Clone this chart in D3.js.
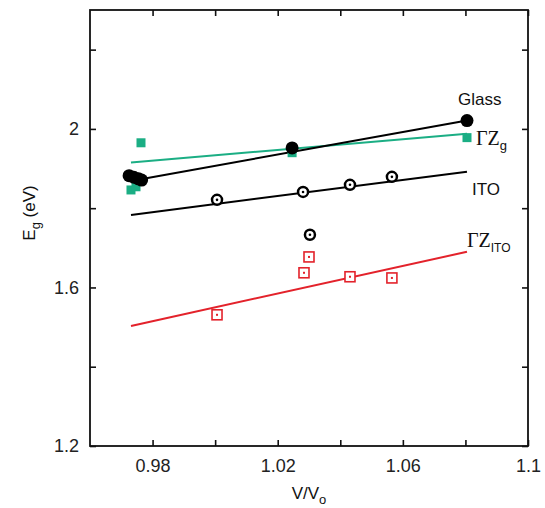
<!DOCTYPE html>
<head>
	<meta charset="utf-8">
	<title>Eg vs V/Vo</title>
	<script src="https://d3js.org/d3.v7.min.js"></script>
	<style>
		body{ margin:0; background:#fff; }
		.tick text{ font-family:"Liberation Sans", Arial, sans-serif; font-size:18px; fill:#222; }
		.axis path{ display:none; }
		.axis line{ stroke:#111; stroke-width:1.6; }
		.lbl{ font-family:"Liberation Sans", Arial, sans-serif; fill:#111; }
		.serif{ font-family:"Liberation Serif", "Times New Roman", serif; fill:#111; }
		.sub{ font-family:"Liberation Sans", Arial, sans-serif; }
	</style>
</head>
<body>
<div id="chart"></div>
<script>
// data
var glassV = [0.9725, 0.974, 0.9755, 0.9765, 1.0246, 1.0805];
var glassE = [1.882, 1.878, 1.874, 1.871, 1.952, 2.021];
var zgV = [0.9731, 0.9747, 0.9763, 1.0246, 1.0805];
var zgE = [1.846, 1.854, 1.965, 1.940, 1.978];
var itoV = [1.0006, 1.0281, 1.0303, 1.0431, 1.0565];
var itoE = [1.821, 1.841, 1.733, 1.859, 1.879];
var zitoV = [1.0006, 1.0284, 1.0300, 1.0431, 1.0565];
var zitoE = [1.531, 1.637, 1.677, 1.627, 1.624];

// straight fit lines (end points)
var glassFitV = [0.9740, 1.0805], glassFitE = [1.870, 2.021];
var zgFitV = [0.9731, 1.0805], zgFitE = [1.915, 1.988];
var itoFitV = [0.9731, 1.0805], itoFitE = [1.783, 1.892];
var zitoFitV = [0.9731, 1.0805], zitoFitE = [1.503, 1.690];

var xTicks = [0.98, 1.00, 1.02, 1.04, 1.06, 1.08, 1.10];
var xLabels = ["0.98", "", "1.02", "", "1.06", "", "1.1"];
var yTicks = [1.2, 1.4, 1.6, 1.8, 2.0, 2.2];
var yLabels = ["1.2", "", "1.6", "", "2", ""];

var green = "#1bae84", red = "#e3222b";

var width = 545, height = 508;
var mLeft = 90, mRight = 528, mTop = 10, mBottom = 446;

var svg = d3.select("#chart").append("svg")
	.attr("width", width)
	.attr("height", height);

var x = d3.scaleLinear().domain([0.96, 1.1]).range([mLeft, mRight]);
var y = d3.scaleLinear().domain([1.2, 2.3]).range([mBottom, mTop]);

// axes, ticks pointing inward
svg.append("g").attr("class", "axis xbottom")
	.attr("transform", "translate(0," + mBottom + ")")
	.call(d3.axisBottom(x).tickValues(xTicks).tickSizeInner(-6).tickPadding(12)
		.tickFormat(function(d, i){ return xLabels[i]; }));
svg.append("g").attr("class", "axis")
	.attr("transform", "translate(0," + mTop + ")")
	.call(d3.axisTop(x).tickValues(xTicks).tickSizeInner(-6).tickFormat(""));
svg.append("g").attr("class", "axis yleft")
	.attr("transform", "translate(" + mLeft + ",0)")
	.call(d3.axisLeft(y).tickValues(yTicks).tickSizeInner(-6).tickPadding(11)
		.tickFormat(function(d, i){ return yLabels[i]; }));
svg.append("g").attr("class", "axis")
	.attr("transform", "translate(" + mRight + ",0)")
	.call(d3.axisRight(y).tickValues(yTicks).tickSizeInner(-6).tickFormat(""));

svg.selectAll(".xbottom .tick text").attr("y", 13);

// frame
svg.append("rect")
	.attr("x", mLeft).attr("y", mTop)
	.attr("width", mRight - mLeft).attr("height", mBottom - mTop)
	.attr("fill", "none").attr("stroke", "#111").attr("stroke-width", 1.8);

// fit lines
var line = d3.line().x(function(d){ return x(d[0]); }).y(function(d){ return y(d[1]); });
function fit(vs, es, color){
	svg.append("path")
		.attr("d", line(d3.zip(vs, es)))
		.attr("stroke", color).attr("stroke-width", 2).attr("fill", "none");
}
fit(zgFitV, zgFitE, green);
fit(glassFitV, glassFitE, "#000");
fit(itoFitV, itoFitE, "#000");
fit(zitoFitV, zitoFitE, red);

// green filled squares
svg.append("g").selectAll("rect").data(d3.zip(zgV, zgE)).enter().append("rect")
	.attr("x", function(d){ return x(d[0]) - 4.5; })
	.attr("y", function(d){ return y(d[1]) - 4.5; })
	.attr("width", 9).attr("height", 9)
	.attr("fill", green);

// glass filled circles
svg.append("g").selectAll("circle").data(d3.zip(glassV, glassE)).enter().append("circle")
	.attr("cx", function(d){ return x(d[0]); })
	.attr("cy", function(d){ return y(d[1]); })
	.attr("r", 6.5)
	.attr("fill", "#000");

// ITO open circles with centre dot
var ito = svg.append("g").selectAll("g").data(d3.zip(itoV, itoE)).enter().append("g")
	.attr("transform", function(d){ return "translate(" + x(d[0]) + "," + y(d[1]) + ")"; });
ito.append("circle").attr("r", 5).attr("fill", "#fff").attr("stroke", "#000").attr("stroke-width", 2.5);
ito.append("circle").attr("r", 1.3).attr("fill", "#000");

// ΓZ ITO open squares with centre dot
var zito = svg.append("g").selectAll("g").data(d3.zip(zitoV, zitoE)).enter().append("g")
	.attr("transform", function(d){ return "translate(" + x(d[0]) + "," + y(d[1]) + ")"; });
zito.append("rect").attr("x", -5).attr("y", -5).attr("width", 10).attr("height", 10)
	.attr("fill", "#fff").attr("stroke", red).attr("stroke-width", 1.6);
zito.append("rect").attr("x", -1).attr("y", -1).attr("width", 2).attr("height", 2).attr("fill", red);

// series labels
svg.append("text").attr("class", "lbl").attr("x", 458).attr("y", 105).attr("font-size", 17).text("Glass");
var t1 = svg.append("text").attr("class", "serif").attr("x", 476).attr("y", 145).attr("font-size", 20);
t1.append("tspan").text("ΓZ");
t1.append("tspan").attr("class", "sub").attr("dy", 5).attr("font-size", 13).text("g");
svg.append("text").attr("class", "lbl").attr("x", 472).attr("y", 195).attr("font-size", 17).text("ITO");
var t2 = svg.append("text").attr("class", "serif").attr("x", 467).attr("y", 247).attr("font-size", 20);
t2.append("tspan").text("ΓZ");
t2.append("tspan").attr("class", "sub").attr("dy", 5).attr("font-size", 12).text("ITO");

// axis titles
var xt = svg.append("text").attr("class", "lbl").attr("x", 309).attr("y", 499)
	.attr("text-anchor", "middle").attr("font-size", 17);
xt.append("tspan").text("V/V");
xt.append("tspan").attr("dy", 5).attr("font-size", 13).text("o");

var yt = svg.append("text").attr("class", "lbl")
	.attr("transform", "translate(35,213) rotate(-90)")
	.attr("text-anchor", "middle").attr("font-size", 17);
yt.append("tspan").text("E");
yt.append("tspan").attr("dy", 5).attr("font-size", 13).text("g");
yt.append("tspan").attr("dy", -5).text(" (eV)");
</script>
</body>
